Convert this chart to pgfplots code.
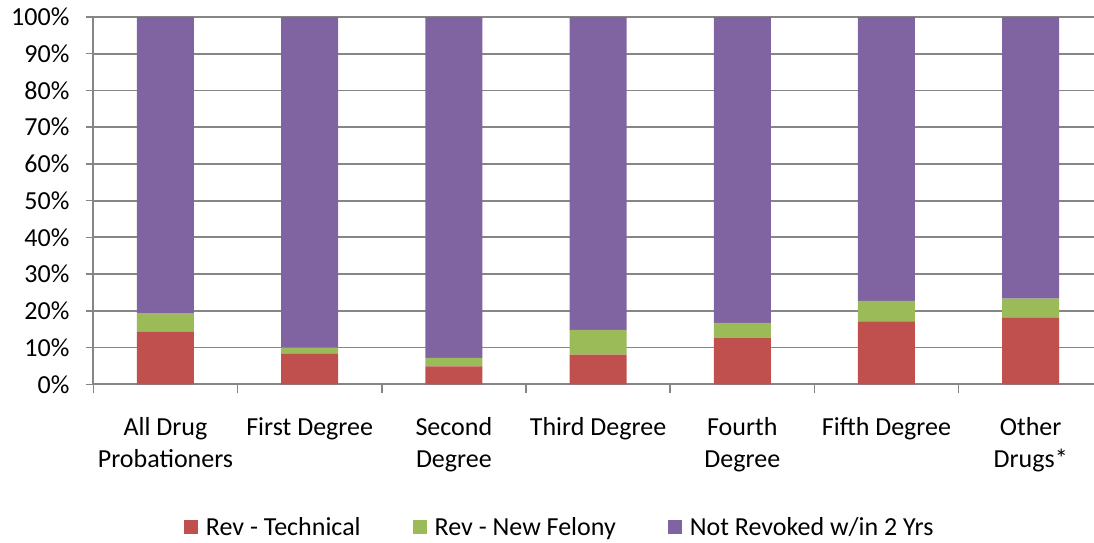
\documentclass[border=0pt]{standalone}
\usepackage{pgfplots}
\pgfplotsset{compat=1.18}
\usepackage{fontspec}
\setmainfont{Carlito}
\definecolor{cred}{HTML}{C0504D}
\definecolor{cgreen}{HTML}{9BBB59}
\definecolor{cpurple}{HTML}{8064A2}
\definecolor{axgray}{HTML}{868686}
\begin{document}
\begin{tikzpicture}
\path[use as bounding box] (-93.4pt,-157.7pt) rectangle (1000.6pt,384.3pt);
\begin{axis}[
  at={(0pt,0pt)}, anchor=south west,
  scale only axis,
  width=1009.4pt, height=367.3pt,
  ybar stacked,
  bar width=57pt,
  xmin=-0.5, xmax=6.5,
  ymin=0, ymax=100,
  xtick={0,1,2,3,4,5,6},
  xticklabels={{All Drug\\Probationers},{First Degree},{Second\\Degree},{Third Degree},{Fourth\\Degree},{Fifth Degree},{Other\\Drugs*}},
  xticklabel style={align=center, font=\fontsize{26}{32}\selectfont, anchor=north, yshift=-22pt},
  xtick style={draw=none},
  extra x ticks={-0.5,0.5,1.5,2.5,3.5,4.5,5.5,6.5},
  extra x tick labels={},
  extra x tick style={xtick style={draw=axgray, line width=1.5pt}, major tick length=9pt, grid=none},
  ytick={0,10,20,30,40,50,60,70,80,90,100},
  yticklabels={0\%,10\%,20\%,30\%,40\%,50\%,60\%,70\%,80\%,90\%,100\%},
  yticklabel style={font=\fontsize{26}{30}\selectfont, xshift=-13pt},
  ytick style={draw=axgray, line width=1.5pt},
  major tick length=7.5pt,
  tick align=outside,
  axis x line*=bottom, axis y line*=left,
  axis line style={draw=axgray, line width=1.8pt, -},
  ymajorgrids,
  grid style={draw=axgray, line width=1.8pt},
  legend style={at={(axis description cs:0.462,-0.3885)}, anchor=center, draw=none,
    font=\fontsize{26}{30}\selectfont, legend columns=3,
    /tikz/every even column/.append style={column sep=50pt},
    /tikz/every odd column/.append style={column sep=6pt}},
  legend image code/.code={\fill[#1] (0pt,-7pt) rectangle (14pt,7pt);},
  clip=false,
]
\addplot[fill=cred, draw=none] coordinates {(0,14.3) (1,8.3) (2,4.9) (3,8.1) (4,12.7) (5,17.1) (6,18.1)};
\addplot[fill=cgreen, draw=none] coordinates {(0,5.1) (1,1.7) (2,2.3) (3,6.7) (4,4.0) (5,5.6) (6,5.2)};
\addplot[fill=cpurple, draw=none] coordinates {(0,80.6) (1,90.0) (2,92.8) (3,85.2) (4,83.3) (5,77.3) (6,76.7)};
\legend{Rev - Technical, Rev - New Felony, Not Revoked w/in 2 Yrs}
\end{axis}
\end{tikzpicture}
\end{document}
